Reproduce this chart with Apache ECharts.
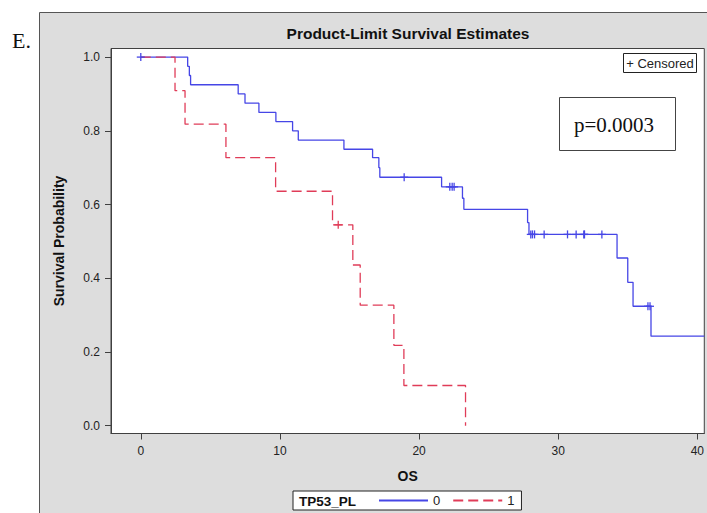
<!DOCTYPE html>
<html>
<head>
<meta charset="utf-8">
<script src="https://cdn.jsdelivr.net/npm/echarts@6/dist/echarts.min.js"></script>
<style>
html,body{margin:0;padding:0;background:#fff;}
#chart{width:707px;height:513px;}
</style>
</head>
<body>
<div id="chart"></div>
<script>
// ---- data ----
const time0 = [0, 3.37, 3.49, 3.58, 7.0, 7.49, 8.49, 9.71, 10.91, 11.32, 14.6, 16.66, 17.11, 17.18, 21.62, 23.12, 23.22, 27.8, 27.9, 34.23, 35.0, 35.38, 36.67, 40.5];
const surv0 = [1, 0.975, 0.95, 0.925, 0.9, 0.875, 0.85, 0.825, 0.8, 0.775, 0.75, 0.727, 0.7, 0.674, 0.648, 0.617, 0.587, 0.551, 0.519, 0.455, 0.389, 0.324, 0.243, 0.243];
const time1 = [0, 2.46, 3.18, 6.12, 9.69, 13.78, 15.24, 15.77, 18.19, 18.91, 23.34];
const surv1 = [1, 0.909, 0.818, 0.727, 0.636, 0.545, 0.436, 0.327, 0.218, 0.109, 0];
const censorTime0 = [0, 18.93, 22.21, 22.38, 22.52, 28.03, 28.15, 28.3, 28.99, 30.67, 31.29, 31.84, 31.89, 33.14, 36.45, 36.6];
const censorSurv0 = [1, 0.674, 0.648, 0.648, 0.648, 0.519, 0.519, 0.519, 0.519, 0.519, 0.519, 0.519, 0.519, 0.519, 0.324, 0.324];
const censorTime1 = [14.19];
const censorSurv1 = [0.545];
const xTicks = [0, 10, 20, 30, 40];
const yTicks = [0, 0.2, 0.4, 0.6, 0.8, 1.0];
const groupNames = ['0', '1'];
const titleText = 'Product-Limit Survival Estimates';
const pText = 'p=0.0003';

// ---- chart ----
const BLUE = '#4646e6';
const RED = '#e03c58';
const FRAME = '#404040';
const zip = (a, b) => a.map((v, i) => [v, b[i]]);

function censorRender(color) {
  return function (params, api) {
    const p = api.coord([api.value(0), api.value(1)]);
    const h = 4;
    return {
      type: 'group',
      children: [
        { type: 'line', shape: { x1: p[0], y1: p[1] - h, x2: p[0], y2: p[1] + h }, style: { stroke: color, lineWidth: 1.3 } },
        { type: 'line', shape: { x1: p[0] - h, y1: p[1], x2: p[0] + h, y2: p[1] }, style: { stroke: color, lineWidth: 1.3 } }
      ]
    };
  };
}

const chart = echarts.init(document.getElementById('chart'), null, { renderer: 'svg' });
const axisFont = { fontFamily: 'Liberation Sans', fontSize: 12, color: '#222' };
chart.setOption({
  backgroundColor: '#fff',
  animation: false,
  grid: {
    left: 111, top: 48.5, width: 593.5, height: 385,
    show: true, backgroundColor: '#fff', borderColor: FRAME, borderWidth: 1,
    containLabel: false
  },
  xAxis: {
    type: 'value', min: -2.141, max: 40.5,
    axisLine: { show: true, onZero: false, lineStyle: { color: FRAME, width: 1 } },
    axisTick: { show: true, inside: false, length: 6, customValues: xTicks, lineStyle: { color: FRAME } },
    axisLabel: Object.assign({ customValues: xTicks, margin: 11 }, axisFont),
    splitLine: { show: false },
    name: 'OS', nameLocation: 'middle', nameGap: 35,
    nameTextStyle: { fontFamily: 'Liberation Sans', fontSize: 14, fontWeight: 'bold', color: '#111' }
  },
  yAxis: {
    type: 'value', min: -0.02116, max: 1.0233,
    axisLine: { show: true, onZero: false, lineStyle: { color: FRAME, width: 1 } },
    axisTick: { show: true, inside: false, length: 6, customValues: yTicks, lineStyle: { color: FRAME } },
    axisLabel: Object.assign({ customValues: yTicks, margin: 11, formatter: v => v.toFixed(1) }, axisFont),
    splitLine: { show: false },
    name: 'Survival Probability', nameLocation: 'middle', nameGap: 45,
    nameTextStyle: { fontFamily: 'Liberation Sans', fontSize: 14, fontWeight: 'bold', color: '#111' }
  },
  legend: {
    left: 293, top: 491,
    orient: 'horizontal',
    padding: [3, 7, 3, 85],
    itemWidth: 49, itemHeight: 13, itemGap: 12,
    itemStyle: { opacity: 0 },
    backgroundColor: '#fff', borderColor: '#222', borderWidth: 1, borderRadius: 0,
    textStyle: { fontFamily: 'Liberation Sans', fontSize: 13, color: '#222', padding: [0, 0, 0, 0] },
    data: groupNames
  },
  graphic: [
    { type: 'rect', z: -10, silent: true, shape: { x: 39.5, y: 12.5, width: 720, height: 540 }, style: { fill: '#dddddd', stroke: '#555', lineWidth: 1 } },
    { type: 'text', z: 100, style: { x: 12, y: 40, text: 'E.', font: '22px "Liberation Serif"', fill: '#111', verticalAlign: 'middle' } },
    { type: 'text', z: 100, style: { x: 408, y: 33, text: titleText, font: 'bold 15.5px "Liberation Sans"', fill: '#111', align: 'center', verticalAlign: 'middle' } },
    { type: 'rect', z: 100, shape: { x: 623.5, y: 53.5, width: 73, height: 19 }, style: { fill: '#fff', stroke: '#222', lineWidth: 1 } },
    { type: 'text', z: 101, style: { x: 660, y: 63.5, text: '+ Censored', font: '13px "Liberation Sans"', fill: '#222', align: 'center', verticalAlign: 'middle' } },
    { type: 'rect', z: 100, shape: { x: 559.5, y: 97.5, width: 116, height: 53 }, style: { fill: '#fff', stroke: '#444', lineWidth: 1 } },
    { type: 'text', z: 101, style: { x: 614, y: 125, text: pText, font: '21px "Liberation Serif"', fill: '#111', align: 'center', verticalAlign: 'middle' } },
    { type: 'text', z: 100, style: { x: 299, y: 501, text: 'TP53_PL', font: 'bold 13.5px "Liberation Sans"', fill: '#111', verticalAlign: 'middle' } }
  ],
  series: [
    {
      name: groupNames[0], type: 'line', step: 'end', symbol: 'none', clip: true,
      data: zip(time0, surv0),
      lineStyle: { color: BLUE, width: 1.3 }, itemStyle: { color: BLUE }, z: 2
    },
    {
      name: groupNames[1], type: 'line', step: 'end', symbol: 'none', clip: true,
      data: zip(time1, surv1),
      lineStyle: { color: RED, width: 1.3, type: [10, 5] }, itemStyle: { color: RED }, z: 3
    },
    {
      name: groupNames[0], type: 'custom', renderItem: censorRender(BLUE),
      data: zip(censorTime0, censorSurv0), z: 4
    },
    {
      name: groupNames[1], type: 'custom', renderItem: censorRender(RED),
      data: zip(censorTime1, censorSurv1), z: 5
    }
  ]
});
</script>
</body>
</html>
